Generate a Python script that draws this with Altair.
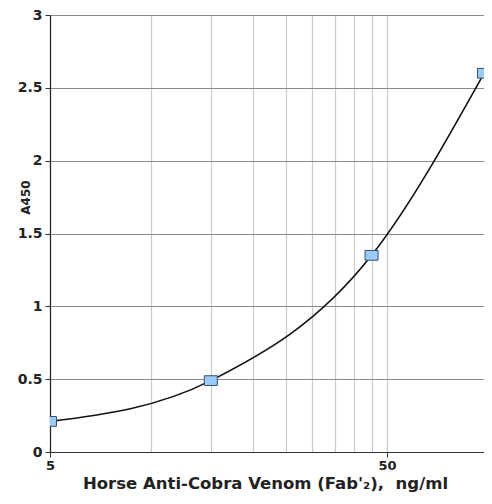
import altair as alt
import pandas as pd

# Data
conc = [5, 15, 45, 97]
a450 = [0.21, 0.49, 1.35, 2.60]

x_grid = [5, 10, 15, 20, 25, 30, 35, 40, 45, 50]
y_ticks = [0, 0.5, 1, 1.5, 2, 2.5, 3]

df = pd.DataFrame({"conc": conc, "a450": a450})

FONT = "DejaVu Sans"

xscale = alt.Scale(type="log", domain=[5, 97], nice=False)
yscale = alt.Scale(domain=[0, 3], nice=False, zero=False)

lab_test = "datum.value == 5 || datum.value == 50"

xaxis = alt.Axis(
    values=x_grid,
    format="~g",
    labelExpr=f"({lab_test}) ? datum.label : ''",
    title="Horse Anti-Cobra Venom (Fab'₂),\u00a0 ng/ml",
    grid=True,
    gridColor="#c9c9c9",
    gridWidth=1.2,
    domainColor="#333333",
    domainWidth=1.2,
    tickColor="#333333",
    tickSize=5,
    tickOpacity={"condition": {"test": lab_test, "value": 1}, "value": 0},
    labelFont=FONT,
    labelFontSize=13,
    labelFontWeight="bold",
    labelColor="#222222",
    labelPadding=2,
    labelFlush=False,
    titleFont=FONT,
    titleFontSize=16.5,
    titleFontWeight="bold",
    titleColor="#222222",
    titleX=215,
    titleY=36,
    titleAlign="center",
    titleBaseline="alphabetic",
)

yaxis = alt.Axis(
    values=y_ticks,
    format="~g",
    title="A450",
    grid=True,
    gridColor="#8a8a8a",
    gridWidth=1.2,
    domainColor="#222222",
    domainWidth=1.2,
    tickColor="#333333",
    tickSize=5,
    labelFont=FONT,
    labelFontSize=14,
    labelFontWeight="bold",
    labelColor="#222222",
    labelPadding=3,
    labelFlush=False,
    titleFont=FONT,
    titleFontSize=12,
    titleFontWeight="bold",
    titleColor="#222222",
    titleX=-21,
    titleY=182,
    titleAngle=270,
    titleAlign="center",
    titleBaseline="alphabetic",
)

base = alt.Chart(df)

line = base.mark_line(
    interpolate="monotone", color="#111111", strokeWidth=1.6, clip=True
).encode(
    x=alt.X("conc:Q", scale=xscale, axis=xaxis),
    y=alt.Y("a450:Q", scale=yscale, axis=yaxis),
)

points = base.mark_point(
    shape="M-1,-0.75H1V0.75H-1Z",
    size=169,
    filled=True,
    fill="#9ccbf5",
    stroke="#34526e",
    strokeWidth=1,
    opacity=1,
    clip=True,
).encode(
    x=alt.X("conc:Q", scale=xscale),
    y=alt.Y("a450:Q", scale=yscale),
)

chart = (
    alt.layer(line, points)
    .properties(
        width=434,
        height=437,
        autosize=alt.AutoSizeParams(type="none"),
        padding={"left": 42, "top": 7, "right": 0, "bottom": 40},
        background="white",
    )
    .configure_view(strokeWidth=0)
)

chart.save("out.html", embed_options={"renderer": "svg", "actions": False})
